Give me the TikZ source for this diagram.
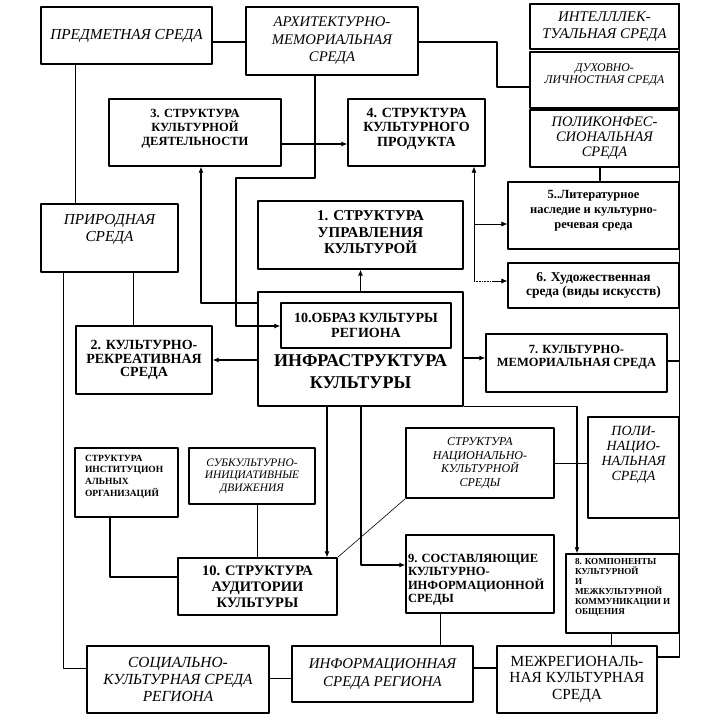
\documentclass[tikz,border=0pt]{standalone}
\usepackage{fontspec}
\setmainfont{Liberation Serif}
\usetikzlibrary{arrows.meta}
\newcommand{\fs}[2]{\fontsize{#1}{#2}\selectfont}
% box text that starts at a given depth below the top edge
\newcommand{\cell}[5]{\parbox[c][#2][t]{#1}{#4\vspace*{#3}#5}}

\begin{document}
\begin{tikzpicture}[x=1pt,y=-1pt,line join=round,
  box/.style={draw,line width=1.3pt,inner sep=0pt,align=center},
  link/.style={line width=1.1pt},
  slim/.style={line width=0.6pt},
  arr/.style={link,-{Latex[length=6pt,width=5pt]}},
  tarr/.style={slim,-{Latex[length=6pt,width=5pt]}}]
  \useasboundingbox (0,0) rectangle (709,726);

  % top row
  \node[box,minimum width=171,minimum height=57,font=\fs{15.3}{17}\itshape] (pred) at (126.5,35.5) {ПРЕДМЕТНАЯ СРЕДА};
  \node[box,minimum width=172,minimum height=68,font=\fs{14.7}{17.5}\itshape] (arch) at (332,41) {АРХИТЕКТУРНО-\\МЕМОРИАЛЬНАЯ\\СРЕДА};
  \node[box,minimum width=149,minimum height=45,font=\fs{14.8}{17.5}\itshape] (intel) at (604.5,26.5) {ИНТЕЛЛЛЕК-\\ТУАЛЬНАЯ СРЕДА};
  \node[box,font=\fs{11.8}{12}\itshape] (duh) at (604.5,80) {\cell{149pt}{56pt}{12pt}{\centering}{ДУХОВНО-\\ЛИЧНОСТНАЯ СРЕДА}};
  \node[box,minimum width=149,minimum height=57,font=\fs{14.5}{15}\itshape] (polik) at (604.5,138.5) {ПОЛИКОНФЕС-\\СИОНАЛЬНАЯ\\СРЕДА};

  \node[box,font=\fs{12.5}{14}\bfseries] (s3) at (195,132.5) {\cell{172pt}{67pt}{10pt}{\centering}{3. СТРУКТУРА\\КУЛЬТУРНОЙ\\ДЕЯТЕЛЬНОСТИ}};
  \node[box,font=\fs{14}{14.5}\bfseries] (s4) at (416.5,132.5) {\cell{137pt}{67pt}{9pt}{\centering}{4. СТРУКТУРА\\КУЛЬТУРНОГО\\ПРОДУКТА}};

  % middle
  \node[box,font=\fs{15.3}{17}\itshape] (prir) at (109.5,238) {\cell{137pt}{68pt}{10pt}{\centering}{ПРИРОДНАЯ\\СРЕДА}};
  \node[box,font=\fs{15}{16.5}\bfseries] (s1) at (360.5,235) {\cell{205pt}{68pt}{10pt}{\centering\leftskip=20pt plus 1fil}{1. СТРУКТУРА\\УПРАВЛЕНИЯ\\КУЛЬТУРОЙ}};
  \node[box,font=\fs{12.5}{15}\bfseries] (s5) at (593.5,215.5) {\cell{171pt}{67pt}{8pt}{\centering}{5..Литературное\\наследие и культурно-\\речевая среда}};
  \node[box,minimum width=171,minimum height=45,font=\fs{13.5}{14}\bfseries] (s6) at (593.5,285.5) {6. Художественная\\среда (виды искусств)};

  \node[box,font=\fs{18}{22}\bfseries] (infra) at (360.5,349) {\cell{205pt}{114pt}{63pt}{\centering}{ИНФРАСТРУКТУРА\\КУЛЬТУРЫ}};
  \node[box,minimum width=170,minimum height=45,font=\fs{14}{15}\bfseries] (obraz) at (366,325.5) {10.ОБРАЗ КУЛЬТУРЫ\\РЕГИОНА};
  \node[box,minimum width=136,minimum height=68,font=\fs{14}{13.5}\bfseries] (s2) at (144,360) {2. КУЛЬТУРНО-\\РЕКРЕАТИВНАЯ\\СРЕДА};
  \node[box,font=\fs{12.5}{13.5}\bfseries] (s7) at (576.5,363) {\cell{181pt}{58pt}{11pt}{\centering}{7. КУЛЬТУРНО-\\МЕМОРИАЛЬНАЯ СРЕДА}};

  % lower part
  \node[box,font=\fs{14}{15}\itshape] (poli) at (633.5,467.5) {\cell{91pt}{101pt}{9pt}{\centering}{ПОЛИ-\\НАЦИО-\\НАЛЬНАЯ\\СРЕДА}};
  \node[box,minimum width=148,minimum height=70,font=\fs{12}{13.5}\itshape] (nat) at (480,463) {СТРУКТУРА\\НАЦИОНАЛЬНО-\\КУЛЬТУРНОЙ\\СРЕДЫ};
  \node[box,font=\fs{9.5}{11.7}\bfseries] (inst) at (126.5,482.5) {\cell{103pt}{69pt}{7pt}{\raggedright\leftskip=10pt}{СТРУКТУРА\\ИНСТИТУЦИОН\\АЛЬНЫХ\\ОРГАНИЗАЦИЙ}};
  \node[box,minimum width=126,minimum height=56,font=\fs{11.4}{12.5}\itshape] (subk) at (252,476) {СУБКУЛЬТУРНО-\\ИНИЦИАТИВНЫЕ\\ДВИЖЕНИЯ};
  \node[box,minimum width=159,minimum height=57,font=\fs{14.5}{16}\bfseries] (s10) at (257.5,586.5) {10. СТРУКТУРА\\АУДИТОРИИ\\КУЛЬТУРЫ};
  \node[box,font=\fs{12.5}{13.5}\bfseries] (s9) at (480,574) {\cell{148pt}{78pt}{19pt}{\raggedright\leftskip=2pt}{9. СОСТАВЛЯЮЩИЕ\\КУЛЬТУРНО-\\ИНФОРМАЦИОННОЙ\\СРЕДЫ}};
  \node[box,font=\fs{9.1}{10}\bfseries] (s8) at (622.5,593.5) {\cell{113pt}{79pt}{4pt}{\raggedright\leftskip=9pt}{8. КОМПОНЕНТЫ\\КУЛЬТУРНОЙ\\И\\МЕЖКУЛЬТУРНОЙ\\КОММУНИКАЦИИ И\\ОБЩЕНИЯ}};

  % bottom row
  \node[box,minimum width=182,minimum height=67,font=\fs{15.4}{16.7}\itshape] (soc) at (178,679.5) {СОЦИАЛЬНО-\\КУЛЬТУРНАЯ СРЕДА\\РЕГИОНА};
  \node[box,minimum width=181,minimum height=56,font=\fs{14.9}{18}\itshape] (inf) at (382.5,674) {ИНФОРМАЦИОННАЯ\\СРЕДА РЕГИОНА};
  \node[box,minimum width=160,minimum height=67,font=\fs{15.4}{16.7}] (mezh) at (577,679.5) {МЕЖРЕГИОНАЛЬ-\\НАЯ КУЛЬТУРНАЯ\\СРЕДА};

  % connectors
  \draw[link] (pred.east |- 0,42) -- (arch.west |- 0,42);
  \draw[slim] (75,0 |- pred.south) -- (75,0 |- prir.north);
  \draw[slim] (133,0 |- prir.south) -- (133,0 |- s2.north);
  \draw[slim] (63,0 |- prir.south) |- (soc.west |- 0,668);
  \draw[link] (arch.east |- 0,42) -- (497,42) |- (duh.west |- 0,87);
  \draw[arr] (s3.east |- 0,144) -- (s4.west |- 0,144);
  \draw[arr] (315,0 |- arch.south) |- (236,178) -- (236,326) -- (obraz.west |- 0,326);
  \draw[arr] (infra.west |- 0,303) -| (201,0 |- s3.south);
  \draw[arr] (infra.north) -- (s1.south);
  \draw[arr] (infra.west |- s2.east) -- (s2.east);
  \draw[arr] (infra.east |- 0,358) -- (s7.west |- 0,358);
  \draw[link] (s7.east |- 0,361) -- (intel.east |- 0,361);
  \draw[link] (intel.north east) -- (intel.east |- 0,657) -- (mezh.east |- 0,657);
  \draw[link] (600,0 |- polik.south) -- (600,0 |- s5.north);
  \coordinate (hub) at (474,281);
  \draw[tarr] (hub) -- (hub |- s4.south);
  \draw[tarr] (hub |- 0,224) -- (s5.west |- 0,224);
  \draw[slim,densely dotted] (hub) -- (492,281);
  \draw[tarr] (492,281) -- (s6.west |- hub);
  \draw[arr] (infra.south east) -| (577,0 |- s8.north);
  \draw[arr] (327,0 |- infra.south) -- (327,0 |- s10.north);
  \draw[arr] (361,0 |- infra.south) |- (s9.west |- 0,565);
  \draw[slim] (nat.east) -- (nat.east -| poli.west);
  \draw[slim] (nat.south west) -- (s10.north east);
  \draw[link] (110,0 |- inst.south) |- (s10.west |- 0,577);
  \draw[slim] (257,0 |- subk.south) -- (257,0 |- s10.north);
  \draw[slim] (440,0 |- s9.south) -- (440,0 |- inf.north);
  \draw[slim] (611,0 |- s8.south) -- (611,0 |- mezh.north);
  \draw[slim] (soc.east |- 0,678) -- (inf.west |- 0,678);
  \draw[link] (inf.east |- 0,668) -- (mezh.west |- 0,668);
\end{tikzpicture}
\end{document}
